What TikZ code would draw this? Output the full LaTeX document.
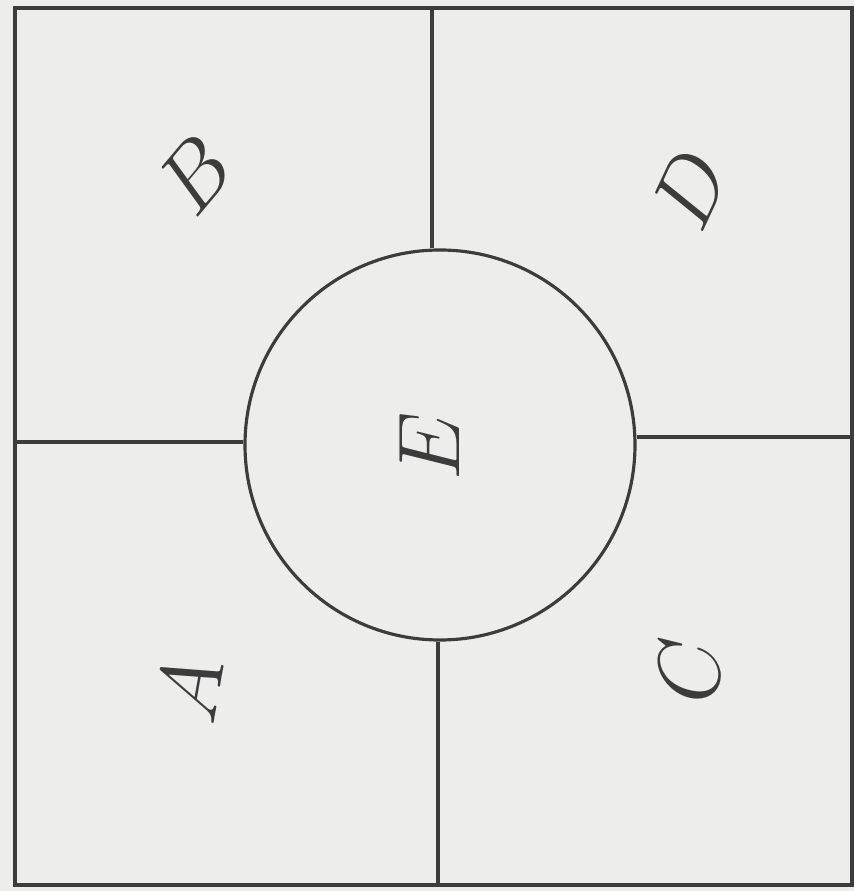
\documentclass[tikz,border=0pt]{standalone}
\usepackage{amsmath, amssymb}
\usepackage{tikz}
\usetikzlibrary{positioning, calc}
\usepackage[dvipsnames, svgnames]{xcolor}

\definecolor{paper}{HTML}{EDEDEB}
\definecolor{pencil}{HTML}{3C3C3C}

\begin{document}
\begin{tikzpicture}[
    wall/.style={line width=0.9pt, pencil},
    region/.style={inner sep=0pt, text=pencil, font=\fontsize{30}{32}\selectfont}
  ]
    % Paper
    \fill[paper] (0,0) rectangle (8.54,8.91);
    \useasboundingbox (0,0) rectangle (8.54,8.91);

    % Outer square
    \draw[wall] (0.15,0.06) rectangle (8.52,8.83);

    % Central room
    \node[draw, circle, wall, minimum size=3.9cm, inner sep=0pt] (circ) at (4.40,4.46) {};

    % Partitions
    \coordinate (top) at (4.32,8.83);
    \coordinate (bot) at (4.38,0.06);
    \coordinate (lft) at (0.15,4.49);
    \coordinate (rgt) at (8.52,4.54);
    \draw[wall] (top) -- (top |- circ.north);
    \draw[wall] (bot) -- (bot |- circ.south);
    \draw[wall] (lft) -- (circ.west |- lft);
    \draw[wall] (rgt) -- (circ.east |- rgt);

    % Region labels
    \node[region, rotate=50] (B) at (1.95,7.16) {$B$};
    \node[region, rotate=65] (D) at (6.90,7.01) {$D$};
    \node[region, rotate=80] (A) at (1.90,2.01) {$A$};
    \node[region, rotate=90] (C) at (6.90,2.21) {$C$};
    \node[region, rotate=90] (E) at (4.30,4.45) {$E$};
\end{tikzpicture}
\end{document}
